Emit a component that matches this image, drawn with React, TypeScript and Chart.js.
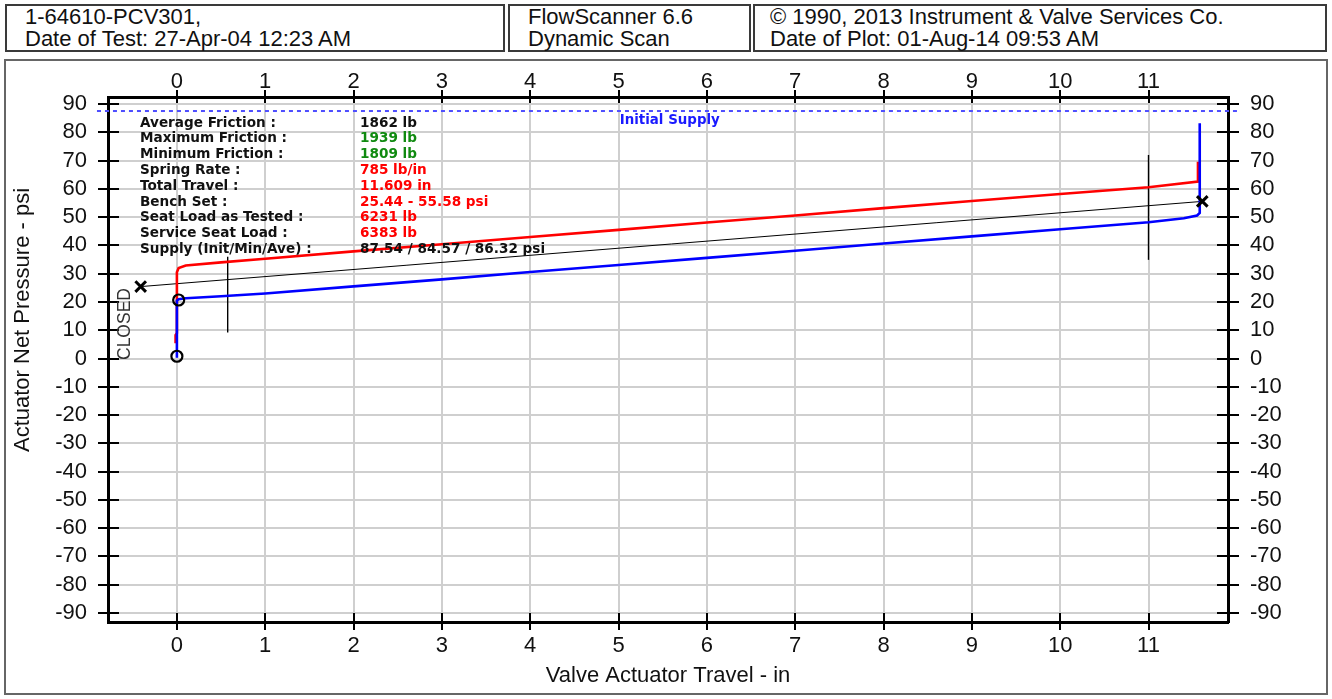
import React, { useEffect, useRef } from 'react';
import { Chart, registerables } from 'chart.js';
Chart.register(...registerables);

// ---------- data ----------
const headerBox1 = ['1-64610-PCV301,', 'Date of Test: 27-Apr-04 12:23 AM'];
const headerBox2 = ['FlowScanner 6.6', 'Dynamic Scan'];
const headerBox3 = ['\u00A9 1990, 2013 Instrument & Valve Services Co.', 'Date of Plot: 01-Aug-14 09:53 AM'];

const xTitle = 'Valve Actuator Travel - in';
const yTitle = 'Actuator Net Pressure - psi';

const travelMin = -0.78;
const travelMax = 11.9;
const pressureMin = -93.2;
const pressureMax = 92.5;

// closing stroke (blue)
const blueTravel = [0, 0, 0.02, 0.1, 0.5, 1, 2, 3, 4, 5, 6, 7, 8, 9, 10, 11, 11.4, 11.55, 11.58, 11.58];
const bluePressure = [0.3, 20.5, 21.0, 21.3, 22.0, 23.0, 25.5, 28.0, 30.6, 33.1, 35.6, 38.1, 40.7, 43.2, 45.7, 48.2, 49.6, 50.6, 51.5, 83.2];

// opening stroke (red)
const redTravel = [-0.015, -0.015, 0, 0, 0.02, 0.1, 0.5, 1, 2, 3, 4, 5, 6, 7, 8, 9, 10, 11, 11.56, 11.56];
const redPressure = [5.4, 8.3, 9, 30.5, 32.0, 32.9, 34.0, 35.3, 37.9, 40.4, 43.0, 45.5, 48.1, 50.6, 53.2, 55.7, 58.2, 60.6, 62.6, 69.6];

// bench set / spring line
const springTravel = [-0.41, 11.609];
const springPressure = [25.44, 55.58];

// friction bars
const bar1Travel = [0.575, 0.575];
const bar1Pressure = [9.2, 36.0];
const bar2Travel = [11.0, 11.0];
const bar2Pressure = [34.9, 72.0];

// seat markers
const seatTravel = [0.02, 0.0];
const seatPressure = [20.7, 0.8];

const initialSupply = 87.54;
const supplyLabel = 'Initial Supply';
const supplyLabelTravel = 5.58;

const closedLabel = 'CLOSED';

const statLabels = [
  'Average Friction :',
  'Maximum Friction :',
  'Minimum Friction :',
  'Spring Rate :',
  'Total Travel :',
  'Bench Set :',
  'Seat Load as Tested :',
  'Service Seat Load :',
  'Supply (Init/Min/Ave) :',
];
const statValues = [
  '1862 lb',
  '1939 lb',
  '1809 lb',
  '785 lb/in',
  '11.609 in',
  '25.44 - 55.58 psi',
  '6231 lb',
  '6383 lb',
  '87.54 / 84.57 / 86.32 psi',
];
const statValueColors = ['#111111', '#108a10', '#108a10', '#ff0000', '#ff0000', '#ff0000', '#ff0000', '#ff0000', '#111111'];

const zip = (xs: number[], ys: number[]) => xs.map((x, i) => ({ x, y: ys[i] }));

const SANS = "'Liberation Sans', Arial, sans-serif";
const BOLD = "'DejaVu Sans', Verdana, sans-serif";

const decor = {
  id: 'decor',
  afterDraw(chart: any) {
    const { ctx, chartArea: a, scales } = chart;
    const xs = scales.x;
    const ys = scales.y;
    ctx.save();
    // crossing tick marks
    ctx.strokeStyle = '#000';
    ctx.lineWidth = 2;
    ctx.beginPath();
    xs.ticks.forEach((t: any) => {
      const p = Math.round(xs.getPixelForValue(t.value));
      ctx.moveTo(p, a.bottom - 9);
      ctx.lineTo(p, a.bottom + 8);
      ctx.moveTo(p, a.top - 7);
      ctx.lineTo(p, a.top + 6);
    });
    ys.ticks.forEach((t: any) => {
      const p = Math.round(ys.getPixelForValue(t.value));
      ctx.moveTo(a.left - 10, p);
      ctx.lineTo(a.left + 11, p);
      ctx.moveTo(a.right - 11, p);
      ctx.lineTo(a.right + 11, p);
    });
    ctx.stroke();

    // axis titles
    ctx.fillStyle = '#111';
    ctx.font = `22px ${SANS}`;
    ctx.textAlign = 'center';
    ctx.textBaseline = 'middle';
    ctx.fillText(xTitle, (a.left + a.right) / 2, a.bottom + 54);
    ctx.save();
    ctx.translate(a.left - 85, a.top + 223);
    ctx.rotate(-Math.PI / 2);
    ctx.fillText(yTitle, 0, 0);
    ctx.restore();

    // CLOSED label
    ctx.save();
    ctx.fillStyle = '#333';
    ctx.font = `17.5px ${SANS}`;
    ctx.translate(a.left + 17, ys.getPixelForValue(12.2));
    ctx.rotate(-Math.PI / 2);
    ctx.fillText(closedLabel, 0, 0);
    ctx.restore();

    // initial supply label
    ctx.fillStyle = '#1a1aff';
    ctx.font = `bold 13.4px ${BOLD}`;
    ctx.fillText(supplyLabel, xs.getPixelForValue(supplyLabelTravel), ys.getPixelForValue(initialSupply) + 9.5);

    // stats block
    ctx.textAlign = 'left';
    ctx.font = `bold 13.6px ${BOLD}`;
    statLabels.forEach((lab, i) => {
      const y = a.top + 26 + i * 15.8;
      ctx.fillStyle = '#111';
      ctx.fillText(lab, a.left + 32, y);
      ctx.fillStyle = statValueColors[i];
      ctx.fillText(statValues[i], a.left + 252, y);
    });
    ctx.restore();
  },
};

export default function App() {
  const ref = useRef<HTMLCanvasElement>(null);
  useEffect(() => {
    if (!ref.current) return;
    const tickFont = { family: SANS, size: 22 };
    const baseTicks = { stepSize: 1, includeBounds: false, font: tickFont, color: '#111', maxRotation: 0, autoSkip: false };
    const chart = new Chart(ref.current, {
      type: 'line',
      data: {
        datasets: [
          {
            label: 'seat',
            data: zip(seatTravel, seatPressure),
            showLine: false,
            pointStyle: 'circle',
            pointRadius: 5.5,
            pointBorderWidth: 2.2,
            pointBorderColor: '#000',
            pointBackgroundColor: 'rgba(0,0,0,0)',
            clip: 10,
          },
          {
            label: 'bench',
            data: zip(springTravel, springPressure),
            showLine: false,
            pointStyle: 'crossRot',
            pointRadius: 7.5,
            pointBorderWidth: 3,
            pointBorderColor: '#000',
            clip: 10,
          },
          {
            label: 'closing',
            data: zip(blueTravel, bluePressure),
            borderColor: '#0000ff',
            borderWidth: 2.6,
            pointRadius: 0,
            tension: 0,
          },
          {
            label: 'opening',
            data: zip(redTravel, redPressure),
            borderColor: '#ff0000',
            borderWidth: 2.6,
            pointRadius: 0,
            tension: 0,
          },
          {
            label: 'spring',
            data: zip(springTravel, springPressure),
            borderColor: '#000',
            borderWidth: 1,
            pointRadius: 0,
          },
          {
            label: 'bar1',
            data: zip(bar1Travel, bar1Pressure),
            borderColor: '#000',
            borderWidth: 1.4,
            pointRadius: 0,
          },
          {
            label: 'bar2',
            data: zip(bar2Travel, bar2Pressure),
            borderColor: '#000',
            borderWidth: 1.4,
            pointRadius: 0,
          },
          {
            label: 'supply',
            data: [
              { x: travelMin - 0.125, y: initialSupply },
              { x: travelMax + 0.125, y: initialSupply },
            ],
            borderColor: '#4d4dff',
            borderWidth: 2,
            borderDash: [4, 4],
            pointRadius: 0,
            clip: 12,
          },
        ],
      },
      options: {
        responsive: false,
        animation: false,
        devicePixelRatio: 1,
        layout: { padding: 0 },
        plugins: { legend: { display: false }, tooltip: { enabled: false }, title: { display: false } },
        scales: {
          x: {
            type: 'linear',
            position: 'bottom',
            min: travelMin,
            max: travelMax,
            afterFit: (s: any) => { s.height = 77; },
            ticks: { ...baseTicks, padding: 11 },
            grid: { color: '#cfcfcf', lineWidth: 2, drawTicks: false },
            border: { display: true, color: '#000', width: 3 },
          },
          x2: {
            type: 'linear',
            position: 'top',
            min: travelMin,
            max: travelMax,
            afterFit: (s: any) => { s.height = 97; },
            ticks: { ...baseTicks, padding: 2 },
            grid: { display: false, drawTicks: false },
            border: { display: true, color: '#000', width: 3 },
          },
          y: {
            type: 'linear',
            position: 'left',
            min: pressureMin,
            max: pressureMax,
            afterFit: (s: any) => { s.width = 108; },
            ticks: { ...baseTicks, stepSize: 10, padding: 21 },
            grid: { color: '#cfcfcf', lineWidth: 2, drawTicks: false },
            border: { display: true, color: '#000', width: 3 },
          },
          y2: {
            type: 'linear',
            position: 'right',
            min: pressureMin,
            max: pressureMax,
            afterFit: (s: any) => { s.width = 104; },
            ticks: { ...baseTicks, stepSize: 10, padding: 22 },
            grid: { display: false, drawTicks: false },
            border: { display: true, color: '#000', width: 3 },
          },
        },
      },
      plugins: [decor],
    } as any);
    return () => chart.destroy();
  }, []);

  const box = (left: number, width: number, lines: string[], padLeft: number) => (
    <div
      style={{
        position: 'absolute',
        left,
        top: 4,
        width,
        height: 48,
        border: '2px solid #3a3a3a',
        boxSizing: 'border-box',
        paddingLeft: padLeft,
        font: `22px ${SANS}`,
        lineHeight: '22px',
        color: '#111',
        whiteSpace: 'nowrap',
      }}
    >
      {lines.map((l) => (
        <div key={l}>{l}</div>
      ))}
    </div>
  );

  return (
    <div style={{ position: 'fixed', left: 0, top: 0, width: 1332, height: 699, background: '#fff', overflow: 'hidden' }}>
      {box(5, 500, headerBox1, 18)}
      {box(508, 243, headerBox2, 18)}
      {box(753, 574, headerBox3, 15)}
      <div style={{ position: 'absolute', left: 4, top: 59, width: 1324, height: 636, border: '2px solid #666', boxSizing: 'border-box' }} />
      <canvas ref={ref} width={1332} height={699} style={{ position: 'absolute', left: 0, top: 0 }} />
    </div>
  );
}
